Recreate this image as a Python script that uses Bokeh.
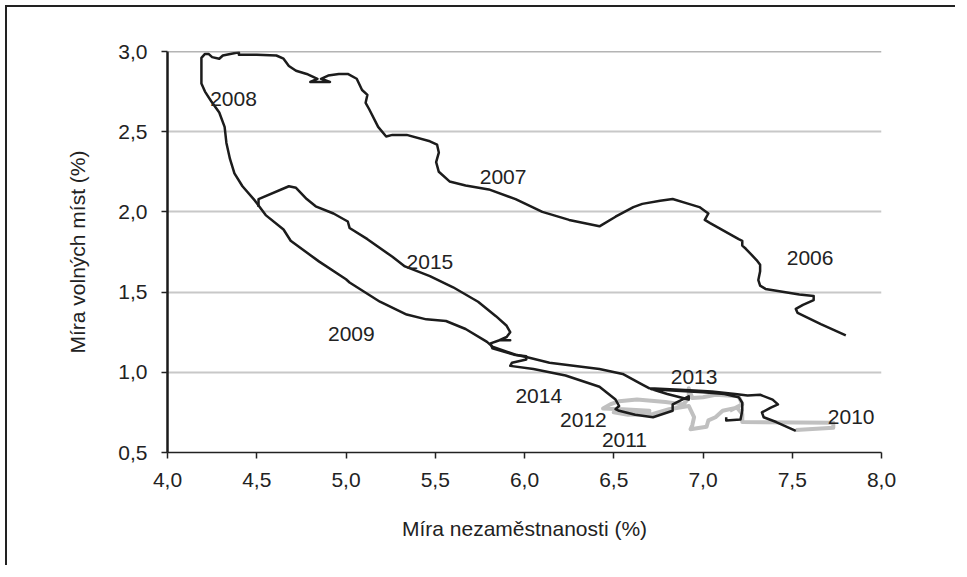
from bokeh.plotting import figure
from bokeh.models import (ColumnDataSource, FixedTicker, CustomJSTickFormatter, Span)
from bokeh.core.properties import value
from bokeh.embed import file_html
from bokeh.resources import INLINE

# ---- data (unemployment %, vacancy %) ----
# 2006 -> 2010 (black)
black1_x = [7.80, 7.66, 7.53, 7.52, 7.56, 7.62, 7.62, 7.54, 7.35, 7.32, 7.31, 7.32, 7.32, 7.30, 7.24, 7.22,
            7.22, 7.20, 7.04, 7.01, 7.03, 6.98, 6.92, 6.83, 6.76, 6.66, 6.61, 6.51, 6.42, 6.25, 6.10, 5.95,
            5.80, 5.67, 5.58, 5.52, 5.505, 5.52, 5.51, 5.47, 5.34, 5.26, 5.225, 5.18, 5.13, 5.11, 5.12, 5.09,
            5.06, 5.01, 4.96, 4.90, 4.86, 4.91, 4.80, 4.84, 4.78, 4.72, 4.68, 4.65, 4.61, 4.50, 4.40, 4.40,
            4.31, 4.29, 4.25, 4.23, 4.21, 4.19, 4.19, 4.19, 4.21, 4.245, 4.29, 4.32, 4.33, 4.35, 4.375, 4.42,
            4.49, 4.55, 4.65, 4.69, 4.85, 5.00, 5.02, 5.19, 5.34, 5.45, 5.56, 5.67, 5.79, 5.82, 5.95, 6.01,
            6.14, 6.42, 6.55, 6.65, 6.70, 6.90, 7.05, 7.18, 7.25, 7.32, 7.39, 7.42, 7.38, 7.33, 7.34, 7.41,
            7.52]
black1_y = [1.23, 1.30, 1.37, 1.395, 1.42, 1.45, 1.475, 1.485, 1.52, 1.54, 1.575, 1.63, 1.67, 1.70, 1.77, 1.79,
            1.82, 1.83, 1.93, 1.95, 1.99, 2.03, 2.05, 2.08, 2.07, 2.05, 2.03, 1.97, 1.91, 1.95, 2.00, 2.08,
            2.14, 2.165, 2.19, 2.25, 2.31, 2.37, 2.42, 2.44, 2.48, 2.48, 2.47, 2.53, 2.64, 2.68, 2.73, 2.76,
            2.83, 2.86, 2.86, 2.85, 2.83, 2.81, 2.81, 2.83, 2.86, 2.88, 2.91, 2.955, 2.975, 2.98, 2.98, 2.995,
            2.975, 2.955, 2.965, 2.985, 2.985, 2.96, 2.89, 2.80, 2.75, 2.69, 2.62, 2.53, 2.43, 2.33, 2.24, 2.16,
            2.07, 1.98, 1.89, 1.82, 1.69, 1.58, 1.56, 1.44, 1.36, 1.33, 1.32, 1.27, 1.19, 1.16, 1.11, 1.095,
            1.06, 1.02, 0.99, 0.93, 0.90, 0.89, 0.88, 0.865, 0.855, 0.86, 0.83, 0.80, 0.78, 0.75, 0.72, 0.69,
            0.635]

# 2010 -> 2012 (grey)
grey_x = [7.52, 7.73, 7.73, 7.22, 7.22, 7.19, 7.11, 7.07, 7.03, 7.02, 6.93, 6.94, 6.95, 6.92, 6.81, 6.72,
          6.58, 6.50, 6.60, 6.70, 6.55, 6.44, 6.48, 6.53, 6.63, 6.79, 6.89, 6.92, 6.92, 6.94, 7.00, 7.07,
          7.20, 7.22, 7.15]
grey_y = [0.64, 0.655, 0.685, 0.69, 0.74, 0.78, 0.76, 0.72, 0.70, 0.66, 0.645, 0.67, 0.72, 0.79, 0.77, 0.74,
          0.735, 0.75, 0.755, 0.76, 0.77, 0.775, 0.80, 0.82, 0.83, 0.815, 0.80, 0.84, 0.90, 0.84, 0.845, 0.86,
          0.85, 0.80, 0.76]

# 2013 -> 2015 (black)
black2_x = [7.13, 7.13, 7.21, 7.22, 7.22, 7.20, 7.12, 7.00, 6.85, 6.71, 6.80, 6.92, 6.92, 6.83, 6.83, 6.72,
            6.62, 6.53, 6.51, 6.53, 6.51, 6.42, 6.23, 6.05, 5.92, 5.93, 6.01, 6.01, 5.94, 5.82, 5.81, 5.86,
            5.92, 5.86, 5.90, 5.92, 5.90, 5.84, 5.74, 5.60, 5.47, 5.33, 5.26, 5.12, 5.02, 5.01, 4.93, 4.83,
            4.78, 4.72, 4.68, 4.51, 4.51]
black2_y = [0.72, 0.70, 0.705, 0.76, 0.81, 0.845, 0.865, 0.875, 0.885, 0.895, 0.865, 0.83, 0.85, 0.80, 0.76, 0.72,
            0.735, 0.76, 0.77, 0.79, 0.83, 0.91, 0.98, 1.02, 1.04, 1.06, 1.08, 1.10, 1.11, 1.15, 1.18, 1.20,
            1.20, 1.20, 1.22, 1.25, 1.29, 1.35, 1.44, 1.53, 1.60, 1.66, 1.72, 1.83, 1.90, 1.94, 1.99, 2.035,
            2.08, 2.15, 2.16, 2.08, 2.03]

years = ["2006", "2007", "2008", "2009", "2010", "2011", "2012", "2013", "2014", "2015"]
year_x = [7.60, 5.88, 4.37, 5.03, 7.83, 6.56, 6.33, 6.95, 6.08, 5.47]
year_y = [1.71, 2.22, 2.705, 1.24, 0.72, 0.58, 0.70, 0.97, 0.85, 1.69]

x_ticks = [4.0, 4.5, 5.0, 5.5, 6.0, 6.5, 7.0, 7.5, 8.0]
y_ticks = [0.5, 1.0, 1.5, 2.0, 2.5, 3.0]

FONT = "Liberation Sans"
TXT = "#222222"

p = figure(width=950, height=560, x_range=(4.0, 8.0), y_range=(0.5, 3.0),
           output_backend="svg", toolbar_location=None,
           min_border_left=160, min_border_top=44, min_border_right=76, min_border_bottom=115)
p.styles = {"border-left": "2px solid #222", "border-top": "2px solid #222",
            "margin-left": "5px", "margin-top": "5px"}
p.outline_line_color = None
p.background_fill_color = "white"
p.border_fill_color = "white"

fmt = CustomJSTickFormatter(code="return tick.toFixed(1).replace('.', ',');")
p.xaxis.ticker = FixedTicker(ticks=x_ticks)
p.yaxis.ticker = FixedTicker(ticks=y_ticks)
p.xaxis.formatter = fmt
p.yaxis.formatter = fmt
for ax in (p.xaxis, p.yaxis):
    ax.major_label_text_font = FONT
    ax.major_label_text_font_size = "21px"
    ax.major_label_text_color = TXT
    ax.axis_label_text_font = FONT
    ax.axis_label_text_font_size = "21px"
    ax.axis_label_text_font_style = "normal"
    ax.axis_label_text_color = TXT
    ax.minor_tick_line_color = None
    ax.major_tick_in = 0
    ax.major_tick_out = 6
    ax.major_tick_line_color = "#222"
    ax.major_tick_line_width = 1.5
p.xaxis.axis_label = "Míra nezaměstnanosti (%)"
p.yaxis.axis_label = "Míra volných míst (%)"
p.xaxis.axis_line_color = "#222"
p.xaxis.axis_line_width = 1.5
p.yaxis.axis_line_color = "#1a1a1a"
p.yaxis.axis_line_width = 2.5
p.xaxis.major_label_standoff = 14
p.yaxis.major_label_standoff = 14
p.xaxis.axis_label_standoff = 27
p.yaxis.axis_label_standoff = 26

p.xgrid.grid_line_color = None
p.ygrid.ticker = FixedTicker(ticks=[1.0, 1.5, 2.0, 2.5])
p.ygrid.grid_line_color = "#c8c8c8"
p.ygrid.grid_line_width = 2
p.add_layout(Span(location=3.0, dimension="width", line_color="#6a6a6a", line_width=1.5))

p.line(grey_x, grey_y, line_color="#c0c0c0", line_width=4, line_join="round")
p.line(black1_x, black1_y, line_color="#1c1c1c", line_width=2.5, line_join="round")
p.line(black2_x, black2_y, line_color="#1c1c1c", line_width=2.5, line_join="round")

src = ColumnDataSource(dict(x=year_x, y=year_y, t=years))
p.text(x="x", y="y", text="t", source=src, text_font=value(FONT), text_font_size="21px",
       text_color=TXT, text_align="center", text_baseline="middle")

open("out.html", "w").write(file_html(p, INLINE))
